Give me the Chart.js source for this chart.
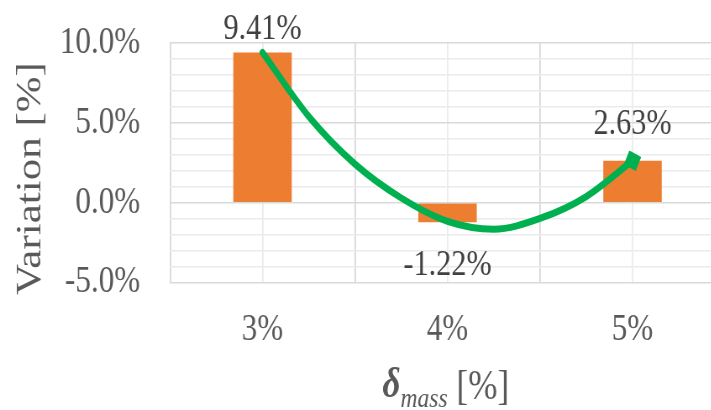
<!DOCTYPE html>
<html>
<head>
<meta charset="utf-8">
<script src="https://cdn.jsdelivr.net/npm/chart.js@4/dist/chart.umd.min.js"></script>
<style>
  html, body { margin: 0; padding: 0; background: #fff; overflow: hidden; width: 711px; height: 410px; }
  /* the chart is laid out wide and narrowed horizontally, giving the condensed serif look */
  #wrap { position: absolute; left: 0; top: 0; width: 880px; height: 410px; transform: scaleX(0.84); transform-origin: 0 0; }
</style>
</head>
<body>
<div id="wrap"><canvas id="c"></canvas></div>
<script>
// Mass deviation categories and the resulting variation (%)
const categories = ['3%', '4%', '5%'];
const variation = [9.41, -1.22, 2.63];

// Trend curve drawn across the bars (position on the category axis, value in %)
const curveX = [3, 3.25, 3.5, 3.75, 4, 4.25, 4.5, 4.75, 5];
const curveY = [9.41, 5.4, 2.42, 0.3, -1.16, -1.65, -0.98, 0.39, 2.63];

// Value axis range and the labelled steps
const yMin = -5, yMax = 10, yLabelStep = 5;

const SERIF = '"Liberation Serif", "Times New Roman", serif';
const MAJOR = '#d9d9d9', MINOR = '#ebebeb';

// vertical offset of each value label from the end of its bar
const labelShift = [-23, 43, -36];

const valueLabels = {
  id: 'valueLabels',
  afterDatasetsDraw(chart) {
    const ctx = chart.ctx;
    const meta = chart.getDatasetMeta(0);
    ctx.save();
    ctx.font = '36px ' + SERIF;
    ctx.fillStyle = '#404040';
    ctx.textAlign = 'center';
    ctx.textBaseline = 'middle';
    meta.data.forEach((bar, i) => {
      ctx.fillText(variation[i].toFixed(2) + '%', bar.x, bar.y + labelShift[i]);
    });
    ctx.restore();
  }
};

const axisTitles = {
  id: 'axisTitles',
  afterDraw(chart) {
    const { ctx, chartArea } = chart;
    ctx.save();
    ctx.fillStyle = '#595959';
    // value axis title
    ctx.save();
    ctx.translate(37, 178.5);
    ctx.rotate(-Math.PI / 2);
    ctx.font = '43px ' + SERIF;
    ctx.textAlign = 'center';
    ctx.textBaseline = 'middle';
    ctx.fillText('Variation [%]', 0, 0);
    ctx.restore();
    // category axis title: δ with "mass" subscript
    const parts = [
      { t: 'δ', f: 'italic bold 42px ' + SERIF, y: 397 },
      { t: 'mass', f: 'italic 28px ' + SERIF, y: 407 },
      { t: ' [%]', f: '42px ' + SERIF, y: 399 }
    ];
    let total = 0;
    parts.forEach(p => { ctx.font = p.f; p.w = ctx.measureText(p.t).width; total += p.w; });
    let x = (chartArea.left + chartArea.right) / 2 - 2 - total / 2;
    ctx.textAlign = 'left';
    ctx.textBaseline = 'alphabetic';
    parts.forEach(p => { ctx.font = p.f; ctx.fillText(p.t, x, p.y); x += p.w; });
    ctx.restore();
  }
};

new Chart(document.getElementById('c'), {
  type: 'bar',
  data: {
    labels: categories,
    datasets: [
      {
        label: 'Variation',
        data: variation,
        backgroundColor: '#ed7d31',
        barPercentage: 0.316,
        categoryPercentage: 1,
        grouped: false,
        xAxisID: 'x',
        order: 1
      },
      {
        type: 'line',
        label: 'Trend',
        data: curveX.map((x, i) => ({ x: x, y: curveY[i] })),
        xAxisID: 'xc',
        borderColor: '#00b050',
        borderWidth: 7,
        borderCapStyle: 'round',
        cubicInterpolationMode: 'monotone',
        fill: false,
        pointStyle: 'rect',
        pointRadius: curveX.map((x, i) => i === curveX.length - 1 ? 11 : 0),
        pointRotation: 25,
        pointBackgroundColor: '#00b050',
        pointBorderWidth: 0,
        order: 0
      }
    ]
  },
  options: {
    responsive: true,
    maintainAspectRatio: false,
    animation: false,
    devicePixelRatio: 1,
    layout: { padding: { top: 43, right: 16.9, bottom: 0, left: 0 } },
    plugins: { legend: { display: false }, tooltip: { enabled: false } },
    scales: {
      x: {
        type: 'category',
        position: 'bottom',
        grid: { display: false, drawTicks: false },
        border: { display: false },
        ticks: { color: '#595959', font: { family: SERIF, size: 37 }, padding: 25 },
        afterFit(s) { s.height = 127.3; s.paddingLeft = 0; s.paddingRight = 0; }
      },
      xc: {
        type: 'linear',
        position: 'bottom',
        min: 2.5,
        max: 5.5,
        offset: false,
        afterBuildTicks(s) {
          s.ticks = [2.5, 3, 3.5, 4, 4.5, 5, 5.5].map(v => ({ value: v }));
        },
        grid: {
          offset: false,
          drawTicks: false,
          lineWidth: 1.8,
          color: c => (c.tick && Number.isInteger(c.tick.value)) ? MINOR : MAJOR
        },
        border: { display: false },
        ticks: { display: false },
        afterFit(s) { s.height = 0; s.paddingLeft = 0; s.paddingRight = 0; }
      },
      y: {
        min: yMin,
        max: yMax,
        ticks: {
          stepSize: 1,
          autoSkip: false,
          color: '#595959',
          font: { family: SERIF, size: 37 },
          padding: 35.7,
          callback: v => (v % yLabelStep === 0) ? v.toFixed(1) + '%' : ''
        },
        grid: {
          drawTicks: false,
          lineWidth: 1.5,
          color: c => (c.tick && c.tick.value % yLabelStep === 0) ? MAJOR : MINOR
        },
        border: { display: false },
        afterFit(s) { s.width = 202.4; s.paddingTop = 0; s.paddingBottom = 0; }
      }
    }
  },
  plugins: [valueLabels, axisTitles]
});
</script>
</body>
</html>
